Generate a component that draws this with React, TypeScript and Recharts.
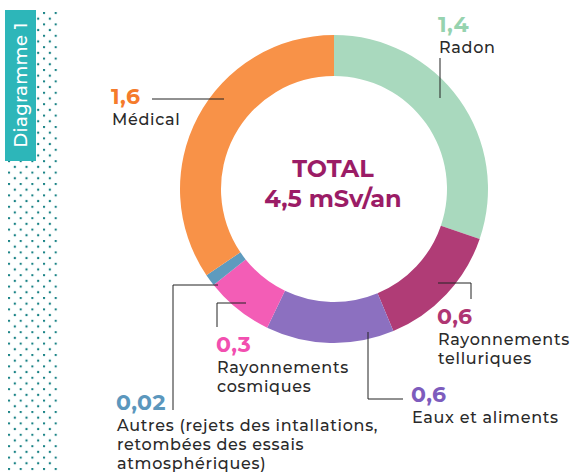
import React from "react";
import { PieChart, Pie, Cell } from "recharts";

const names = [
  "Radon",
  "Rayonnements telluriques",
  "Eaux et aliments",
  "Rayonnements cosmiques",
  "Autres (rejets des intallations, retombées des essais atmosphériques)",
  "Médical",
];
const values = [1.4, 0.6, 0.6, 0.3, 0.02, 1.6];
const valueLabels = ["1,4", "0,6", "0,6", "0,3", "0,02", "1,6"];
const labelLines = [
  ["Radon"],
  ["Rayonnements", "telluriques"],
  ["Eaux et aliments"],
  ["Rayonnements", "cosmiques"],
  ["Autres (rejets des intallations,", "retombées des essais", "atmosphériques)"],
  ["Médical"],
];

const COLORS = ["#A9D9BE", "#B03C76", "#8C70C0", "#F35DB6", "#5E9BBE", "#F89248"];
const VALUE_COLORS = ["#96D3AF", "#AF3673", "#7D5CBD", "#F24FB0", "#5B97BD", "#F57B2B"];

const data = names.map((name, i) => ({ name, value: values[i] }));

// layout of each annotation: value text position, leader polyline
const LAYOUT = [
  { x: 438, y: 32, line: [[440, 58], [440, 98]] },
  { x: 437, y: 324, line: [[438, 283], [471, 283], [471, 299]] },
  { x: 411, y: 402, line: [[368, 332], [368, 399], [403, 399]] },
  { x: 216, y: 352, line: [[246, 303], [217, 303], [217, 327]] },
  { x: 116, y: 410, line: [[218, 285], [173, 285], [173, 410]] },
  { x: 111, y: 104, line: [[224, 99], [152, 99]] },
];

const FONT = "Montserrat, 'Open Sans', sans-serif";

function renderLabel(props: any) {
  const i = props.index;
  const l = LAYOUT[i];
  return (
    <g key={`lab-${i}`}>
      <polyline
        points={l.line.map((p) => p.join(",")).join(" ")}
        fill="none"
        stroke="#222"
        strokeWidth={1}
      />
      <text x={l.x} y={l.y} fill={VALUE_COLORS[i]} fontSize={22} fontWeight={700} letterSpacing={0.5} fontFamily={FONT}>
        {valueLabels[i]}
      </text>
      {labelLines[i].map((t, k) => (
        <text
          key={k}
          x={l.x + 1}
          y={l.y + 21 + k * 19}
          fill="#2a2a2a"
          fontSize={16}
          fontWeight={500}
          letterSpacing={0.7}
          fontFamily={FONT}
        >
          {t}
        </text>
      ))}
    </g>
  );
}

function Dots() {
  return (
    <svg width={60} height={474} style={{ position: "absolute", left: 0, top: 0 }}>
      <defs>
        <pattern id="dots" x={8} y={12} width={11.67} height={11.4} patternUnits="userSpaceOnUse">
          <circle cx={1} cy={1} r={1.2} fill="#137F82" />
          <circle cx={6.83} cy={6.7} r={1.2} fill="#137F82" />
        </pattern>
      </defs>
      <rect x={6} y={10} width={52} height={462} fill="url(#dots)" />
      <rect x={5} y={10} width={31} height={151} fill="#2DB6B9" />
      <text
        x={21}
        y={85}
        transform="rotate(-90 21 85)"
        textAnchor="middle"
        dominantBaseline="central"
        fill="#fff"
        fontSize={18}
        fontWeight={500}
        letterSpacing={0.4}
        fontFamily={FONT}
      >
        Diagramme 1
      </text>
    </svg>
  );
}

export default function App() {
  return (
    <div style={{ position: "absolute", left: 0, top: 0, width: 570, height: 474, background: "#fff" }}>
      <Dots />
      <div style={{ position: "absolute", left: 0, top: 0 }}>
        <PieChart width={570} height={474} margin={{ top: 0, right: 0, bottom: 0, left: 0 }}>
          <Pie
            data={data}
            dataKey="value"
            cx={334}
            cy={189}
            innerRadius={113}
            outerRadius={154}
            startAngle={90}
            endAngle={-270}
            minAngle={3}
            stroke="none"
            isAnimationActive={false}
            label={renderLabel}
            labelLine={false}
          >
            {data.map((entry, index) => (
              <Cell key={`cell-${index}`} fill={COLORS[index]} />
            ))}
          </Pie>
          <text x={333} y={177} textAnchor="middle" fill="#9B1C66" fontSize={24} fontWeight={700} fontFamily={FONT}>
            TOTAL
          </text>
          <text x={333} y={207} textAnchor="middle" fill="#9B1C66" fontSize={24} fontWeight={700} fontFamily={FONT}>
            4,5 mSv/an
          </text>
        </PieChart>
      </div>
    </div>
  );
}
